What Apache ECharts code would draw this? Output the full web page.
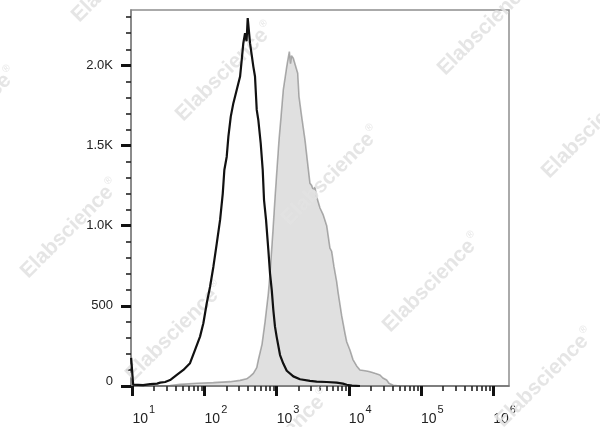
<!DOCTYPE html>
<html>
<head>
<meta charset="utf-8">
<script src="https://cdn.jsdelivr.net/npm/echarts@6/dist/echarts.min.js"></script>
<style>
html,body{margin:0;padding:0;background:#fff;}
#chart{width:600px;height:427px;}
</style>
</head>
<body>
<div id="chart"></div>
<script>
// x values are log10(fluorescence intensity)
const controlX = [0.982,1.010,1.148,1.245,1.342,1.384,1.453,1.522,1.615,1.706,1.798,1.868,1.937,1.983,2.030,2.076,2.122,2.169,2.215,2.252,2.274,2.307,2.330,2.363,2.399,2.446,2.492,2.515,2.537,2.561,2.582,2.598,2.630,2.676,2.699,2.723,2.745,2.778,2.806,2.824,2.852,2.884,2.907,2.931,2.953,2.976,3.000,3.046,3.091,3.139,3.230,3.323,3.461,3.554,3.693,3.831,3.918,3.970,4.043,4.154];
const controlY = [175,8,5,12,15,21,25,37,69,100,142,225,308,391,516,619,744,890,1036,1200,1347,1430,1555,1680,1764,1847,1930,2034,2138,2200,2150,2294,2138,1992,1930,1722,1659,1514,1347,1160,1036,848,703,599,474,370,305,193,140,95,60,42,32,27,25,21,15,8,2,0];

const stainedX = [1.384,1.522,1.661,1.892,2.122,2.353,2.492,2.584,2.630,2.676,2.723,2.745,2.796,2.838,2.884,2.907,2.945,2.976,3.000,3.032,3.060,3.091,3.139,3.157,3.175,3.191,3.205,3.230,3.253,3.291,3.309,3.346,3.392,3.429,3.461,3.485,3.507,3.530,3.554,3.600,3.645,3.693,3.738,3.762,3.794,3.831,3.853,3.900,3.946,3.970,4.015,4.057,4.108,4.154,4.247,4.292,4.361,4.431,4.472,4.524,4.556,4.615,4.708];
const stainedY = [0,3,10,17,21,27,35,45,60,79,115,162,260,400,578,700,950,1170,1330,1535,1680,1847,1992,2040,2085,2010,2060,2044,2034,1951,1805,1680,1535,1389,1264,1250,1223,1240,1180,1110,1067,1000,860,840,744,651,578,440,329,276,225,165,125,100,94,89,79,69,50,37,17,5,0];

const xTickExponents = [1,2,3,4,5,6];
const yTickValues = [0,500,1000,1500,2000];
const yTickLabels = ['0','500','1.0K','1.5K','2.0K'];
const yMinorValues = [100,200,300,400,600,700,800,900,1100,1200,1300,1400,1600,1700,1800,1900,2100,2200,2300];
const watermarkText = 'Elabscience';
const watermarkCenters = [[121,-27],[225,72],[331,176],[432,283],[545,378],[-32,117],[70,229],[175,332],[281,439],[487,26],[591,129]];

const X_MIN = 0.98, X_MAX = 6.22, Y_MAX = 2345;

const xMinor = [];
for (let n = 1; n < 6; n++) for (let k = 2; k <= 9; k++) xMinor.push(n + Math.log10(k));

const controlData = controlX.map((x, i) => [x, controlY[i]]);
const stainedData = stainedX.map((x, i) => [x, stainedY[i]]);

const FONT = '"Liberation Sans", Arial, sans-serif';

const chart = echarts.init(document.getElementById('chart'), null, {renderer: 'canvas'});
chart.setOption({
  animation: false,
  backgroundColor: '#fff',
  grid: {left: 131, top: 10, right: 91, bottom: 41, show: true, borderColor: '#8f8f8f', borderWidth: 1.5, backgroundColor: 'transparent'},
  xAxis: [{
    type: 'value', min: X_MIN, max: X_MAX, position: 'bottom',
    axisLine: {show: true, lineStyle: {color: '#707070', width: 1.5}},
    splitLine: {show: false},
    axisTick: {show: true, customValues: xTickExponents, length: 10, lineStyle: {color: '#111', width: 3}},
    axisLabel: {
      show: true, customValues: xTickExponents, margin: 18, align: 'left',
      formatter: v => '{b|10}{s|' + Math.round(v) + '}',
      rich: {
        b: {fontSize: 14, fontFamily: FONT, color: '#222', padding: [8,0,0,0]},
        s: {fontSize: 11, fontFamily: FONT, color: '#222', padding: [0,0,12,1]}
      }
    }
  }, {
    type: 'value', min: X_MIN, max: X_MAX, position: 'bottom',
    axisLine: {show: false}, splitLine: {show: false}, axisLabel: {show: false},
    axisTick: {show: true, customValues: xMinor, length: 5, lineStyle: {color: '#222', width: 1.6}}
  }],
  yAxis: [{
    type: 'value', min: 0, max: Y_MAX, position: 'left',
    axisLine: {show: true, lineStyle: {color: '#808080', width: 1.5}},
    splitLine: {show: false},
    axisTick: {show: true, customValues: yTickValues, length: 10, lineStyle: {color: '#111', width: 3}},
    axisLabel: {
      show: true, customValues: yTickValues, margin: 18,
      formatter: v => {
        const i = yTickValues.indexOf(v);
        const t = i >= 0 ? yTickLabels[i] : '';
        return v === 0 ? '{z|' + t + '}' : '{n|' + t + '}';
      },
      rich: {
        n: {fontSize: 13, fontFamily: FONT, color: '#222'},
        z: {fontSize: 13, fontFamily: FONT, color: '#222', padding: [0,0,10,0]}
      }
    }
  }, {
    type: 'value', min: 0, max: Y_MAX, position: 'left',
    axisLine: {show: false}, splitLine: {show: false}, axisLabel: {show: false},
    axisTick: {show: true, customValues: yMinorValues, length: 5, lineStyle: {color: '#222', width: 1.6}}
  }],
  series: [{
    type: 'line', xAxisIndex: 0, yAxisIndex: 0, data: controlData,
    showSymbol: false, symbol: 'none', smooth: false, z: 150,
    lineStyle: {color: '#111', width: 2.2}
  }, {
    type: 'line', xAxisIndex: 0, yAxisIndex: 0, data: stainedData,
    showSymbol: false, symbol: 'none', smooth: false, z: 3,
    lineStyle: {color: 'rgba(110,110,110,0.55)', width: 1.6},
    areaStyle: {color: 'rgba(150,150,150,0.42)', origin: 'start'}
  }],
  graphic: watermarkCenters.map(c => ({
    type: 'text', x: c[0], y: c[1], rotation: Math.PI / 4, z: 100, silent: true,
    style: {
      text: '{a|' + watermarkText + '}{r|®}',
      align: 'center', verticalAlign: 'middle',
      rich: {
        a: {fontSize: 21, fontWeight: 'bold', fontFamily: FONT, fill: 'rgba(226,226,226,0.9)', color: 'rgba(226,226,226,0.9)'},
        r: {fontSize: 10, fontFamily: FONT, fill: 'rgba(226,226,226,0.9)', color: 'rgba(226,226,226,0.9)', padding: [0,0,14,1]}
      }
    }
  }))
});
</script>
</body>
</html>
